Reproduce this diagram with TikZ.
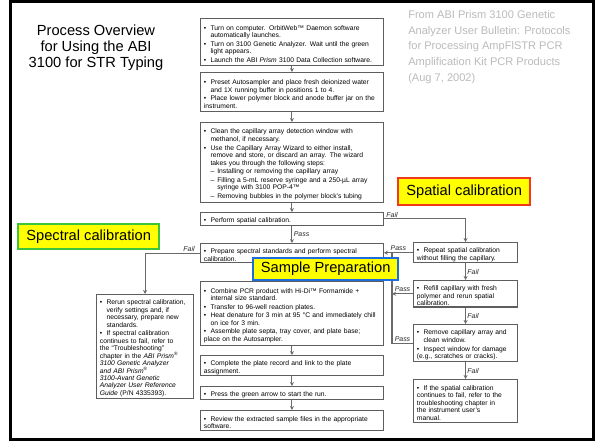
\documentclass[tikz,border=0pt]{standalone}
\usepackage{fontspec}
\setmainfont{Liberation Sans}
\usetikzlibrary{arrows.meta}

\definecolor{boxgray}{HTML}{5E5E5E}
\definecolor{linegray}{HTML}{6A6A6A}
\definecolor{notegray}{HTML}{BBBBBB}
\definecolor{hiyellow}{HTML}{FFFF00}
\definecolor{spatialred}{HTML}{F23A1A}
\definecolor{sampleblue}{HTML}{1C6EE0}
\definecolor{spectralgreen}{HTML}{3CC43C}

% bullet and dash entries with hanging indent
\newcommand{\bitem}[1]{\par\hangindent=5pt\hangafter=1\noindent\makebox[5pt][l]{\textbullet}#1}
\newcommand{\ditem}[1]{\par\hangindent=10pt\hangafter=1\noindent\hspace*{5pt}\makebox[5pt][l]{\textendash}#1}
\newcommand{\boxfont}{\fontsize{5.05}{5.6}\selectfont\setlength{\parskip}{0.9pt}}

\tikzset{
  stepbox/.style={draw=boxgray, line width=0.9pt, fill=white, anchor=north west,
    inner xsep=2.5pt, inner ysep=1pt, align=left, font=\boxfont},
  mainbox/.style={stepbox, text width=132pt},
  sidebox/.style={stepbox, text width=73pt},
  tagbox/.style={fill=hiyellow, line width=1.8pt, anchor=north west, inner sep=0pt,
    font=\fontsize{11}{13}\selectfont},
  flow/.style={linegray, line width=0.8pt, -{Stealth[length=3pt,width=3pt]}},
  flowline/.style={linegray, line width=0.8pt, -},
  lbl/.style={font=\fontsize{5.2}{6}\selectfont\itshape, inner sep=1pt, text=black!85}
}

\begin{document}
\begin{tikzpicture}[x=0.75pt,y=-0.75pt]
\useasboundingbox (0,0) rectangle (599,442);
\fill[white] (0,0) rectangle (599,442);
\draw[line width=2.25pt] (10,2) rectangle (593,439);

% headings
\node[font=\fontsize{11}{12}\selectfont, align=center] (title) at (96,48)
  {Process Overview\\for Using the ABI\\3100 for STR Typing};
\node[font=\fontsize{8.3}{11.8}\selectfont, text=notegray, align=left, anchor=north west, inner sep=0pt] (source) at (408,10)
  {From ABI Prism 3100 Genetic\\Analyzer User Bulletin: Protocols\\for Processing AmpFlSTR PCR\\Amplification Kit PCR Products\\(Aug 7, 2002)};

% main column
\node[mainbox, minimum height=35.25pt] (turnon) at (200,18)
  {\bitem{Turn on computer. OrbitWeb\texttrademark\ Daemon software\newline automatically launches.}
   \bitem{Turn on 3100 Genetic Analyzer. Wait until the green\newline light appears.}
   \bitem{Launch the ABI \textit{Prism} 3100 Data Collection software.}};
\node[mainbox, minimum height=29.25pt] (preset) at (200,72)
  {\bitem{Preset Autosampler and place fresh deionized water\newline and 1X running buffer in positions 1 to 4.}
   \bitem{Place lower polymer block and anode buffer jar on the\newline instrument.}};
\node[mainbox, minimum height=60pt] (cleanwin) at (200,122)
  {\bitem{Clean the capillary array detection window with\newline methanol, if necessary.}
   \bitem{Use the Capillary Array Wizard to either install,\newline remove and store, or discard an array. The wizard\newline takes you through the following steps:}
   \ditem{Installing or removing the capillary array}
   \ditem{Filling a 5-mL reserve syringe and a 250-µL array\newline syringe with 3100 POP-4\texttrademark}
   \ditem{Removing bubbles in the polymer block's tubing}};
\node[mainbox, minimum height=8.25pt] (spatcal) at (200,212)
  {\bitem{Perform spatial calibration.}};
\node[mainbox, minimum height=14.25pt] (spectcal) at (200,243)
  {\bitem{Prepare spectral standards and perform spectral\newline calibration.}};
\node[mainbox, minimum height=48pt] (combine) at (200,281)
  {\bitem{Combine PCR product with Hi-Di\texttrademark\ Formamide +\newline internal size standard.}
   \bitem{Transfer to 96-well reaction plates.}
   \bitem{Heat denature for 3 min at 95 °C and immediately chill\newline on ice for 3 min.}
   \bitem{Assemble plate septa, tray cover, and plate base;\newline place on the Autosampler.}};
\node[mainbox, minimum height=15pt] (platerec) at (200,355)
  {\bitem{Complete the plate record and link to the plate\newline assignment.}};
\node[mainbox, minimum height=8.25pt] (pressrun) at (200,386)
  {\bitem{Press the green arrow to start the run.}};
\node[mainbox, minimum height=15pt] (review) at (200,410)
  {\bitem{Review the extracted sample files in the appropriate\newline software.}};

% spectral branch
\node[stepbox, text width=67.75pt, minimum height=76.5pt] (rerunspec) at (96,294)
  {\bitem{Rerun spectral calibration,\newline verify settings and, if\newline necessary, prepare new\newline standards.}
   \bitem{If spectral calibration\newline continues to fail, refer to\newline the “Troubleshooting”\newline chapter in the \textit{ABI Prism}\textsuperscript{®}\newline \textit{3100 Genetic Analyzer}\newline \textit{and ABI Prism}\textsuperscript{®}\newline \textit{3100-Avant Genetic}\newline \textit{Analyzer User Reference}\newline \textit{Guide} (P/N 4335393).}};

% spatial branch
\node[sidebox, minimum height=14.25pt] (repeat) at (413,242)
  {\bitem{Repeat spatial calibration\newline without filling the capillary.}};
\node[sidebox, minimum height=18.75pt] (refill) at (413,280)
  {\bitem{Refill capillary with fresh\newline polymer and rerun spatial\newline calibration.}};
\node[sidebox, minimum height=27.75pt] (remove) at (413,324)
  {\bitem{Remove capillary array and\newline clean window.}
   \bitem{Inspect window for damage\newline (e.g., scratches or cracks).}};
\node[sidebox, minimum height=32.25pt] (spathelp) at (413,379)
  {\bitem{If the spatial calibration\newline continues to fail, refer to the\newline troubleshooting chapter in\newline the instrument user's\newline manual.}};
\coordinate (passx) at (392,0);

% connectors
\path[draw,flow] (turnon) -- (preset);
\path[draw,flow] (preset) -- (cleanwin);
\path[draw,flow] (cleanwin) -- (spatcal);
\path[draw,flow] (spatcal) -- (spectcal) node[lbl, midway, right] {Pass};
\path[draw,flow] (spectcal) -- (combine);
\path[draw,flow] (combine) -- (platerec);
\path[draw,flow] (platerec) -- (pressrun);
\path[draw,flow] (pressrun) -- (review);
\path[draw,flow] (spectcal.west) -| (rerunspec.north) node[lbl, pos=0.1, above] {Fail};
\path[draw,flow] (spatcal.east) -| (repeat.north) node[lbl, pos=0.05, above] {Fail};
\path[draw,flow] (repeat) -- (refill) node[lbl, midway, right] {Fail};
\path[draw,flow] (refill) -- (remove) node[lbl, midway, right] {Fail};
\path[draw,flow] (remove) -- (spathelp) node[lbl, midway, right] {Fail};
\path[draw,flow] (repeat.west) -- (repeat.west -| spectcal.east) node[lbl, midway, above] {Pass};
\path[draw,flow] (refill.west) -- (refill.west -| passx) node[lbl, midway, above] {Pass};
\path[draw,flowline] (remove.west) -- (remove.west -| passx) node[lbl, midway, above] {Pass}
  -- (repeat.west -| passx);

% section tags
\node[tagbox, draw=spatialred, minimum width=99pt, minimum height=20.25pt] (spatialtag) at (397,177) {Spatial calibration};
\node[tagbox, draw=spectralgreen, minimum width=105.75pt, minimum height=18.75pt] (spectraltag) at (17,223) {Spectral calibration};
\node[tagbox, draw=sampleblue, minimum width=108.75pt, minimum height=16.5pt] (sampletag) at (252,257) {Sample Preparation};
\end{tikzpicture}
\end{document}
